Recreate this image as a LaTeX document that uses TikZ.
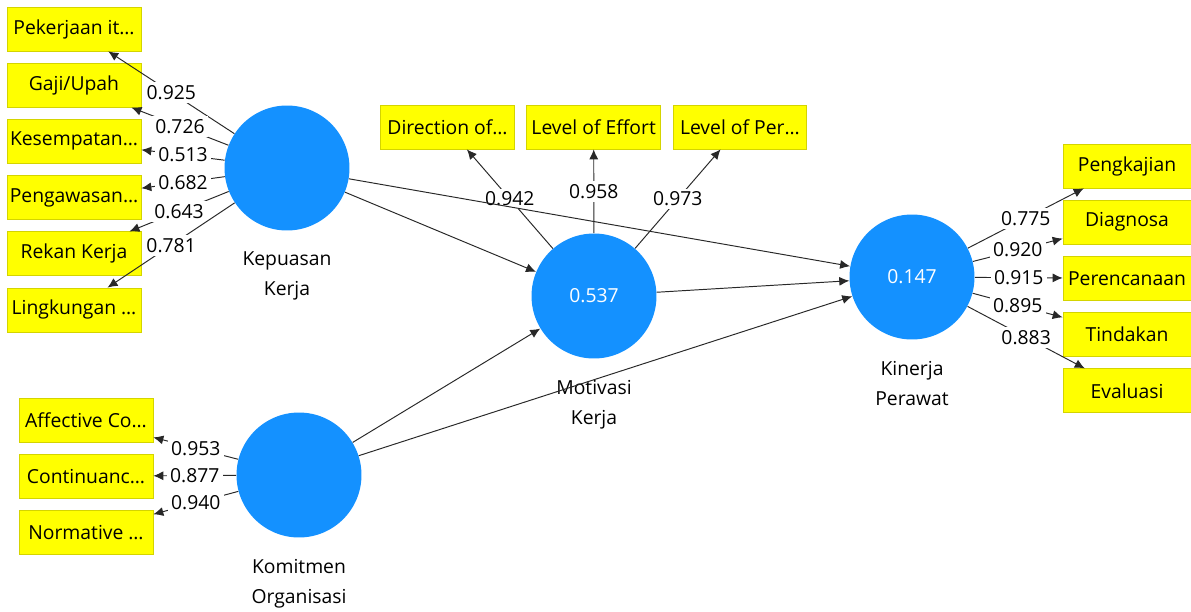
\documentclass[tikz,border=0pt]{standalone}
\usepackage{fontspec}
\setmainfont{Open Sans}
\usetikzlibrary{positioning,arrows.meta}
\definecolor{lvblue}{RGB}{20,145,255}
\definecolor{indyellow}{RGB}{255,255,0}
\definecolor{indborder}{RGB}{212,212,0}
\definecolor{pathgray}{RGB}{40,40,40}
\tikzset{
  >={Latex[length=2mm,width=1.8mm]},
  every edge/.append style={draw=pathgray, line width=0.55pt},
}
\begin{document}
\begin{tikzpicture}[
  ->,
  x=0.02cm, y=-0.02cm,
  font=\fontsize{11}{17}\selectfont,
  lv/.style={circle, fill=lvblue, minimum size=2.5cm, inner sep=0pt, text=white},
  ind/.style={draw=indborder, fill=indyellow, minimum width=2.68cm, minimum height=0.88cm, inner sep=0pt},
  val/.style={fill=white, inner sep=1.8pt},
  lvname/.style={below=0.42cm of #1, align=center, inner sep=0pt}
]
\fill[white] (0,0) rectangle (1191,612);
\useasboundingbox (0,0) rectangle (1191,612);

% latent variables
\node[lv] (kk) at (287,168) {};
\node[lv] (ko) at (299,475) {};
\node[lv] (mk) at (594,296) {0.537};
\node[lv] (kp) at (912,277) {0.147};

\node[lvname=kk] (kkl) {Kepuasan\\Kerja};
\node[lvname=ko] (kol) {Komitmen\\Organisasi};
\node[lvname=mk] (mkl) {Motivasi\\Kerja};
\node[lvname=kp] (kpl) {Kinerja\\Perawat};

% indicators
\node[ind] (kk1) at (74,29) {Pekerjaan it…};
\node[ind, below=0.23cm of kk1] (kk2) {Gaji/Upah};
\node[ind, below=0.23cm of kk2] (kk3) {Kesempatan…};
\node[ind, below=0.23cm of kk3] (kk4) {Pengawasan…};
\node[ind, below=0.23cm of kk4] (kk5) {Rekan Kerja};
\node[ind, below=0.23cm of kk5] (kk6) {Lingkungan …};

\node[ind] (ko1) at (86,420) {Affective Co…};
\node[ind, below=0.23cm of ko1] (ko2) {Continuanc…};
\node[ind, below=0.23cm of ko2] (ko3) {Normative …};

\node[ind] (mk1) at (447.5,127) {Direction of…};
\node[ind, right=0.23cm of mk1] (mk2) {Level of Effort};
\node[ind, right=0.23cm of mk2] (mk3) {Level of Per…};

\node[ind, minimum width=2.56cm] (kp1) at (1127,166) {Pengkajian};
\node[ind, minimum width=2.56cm, below=0.23cm of kp1] (kp2) {Diagnosa};
\node[ind, minimum width=2.56cm, below=0.23cm of kp2] (kp3) {Perencanaan};
\node[ind, minimum width=2.56cm, below=0.23cm of kp3] (kp4) {Tindakan};
\node[ind, minimum width=2.56cm, below=0.23cm of kp4] (kp5) {Evaluasi};

% outer loadings
\path
(kk) edge node[val] {0.925} (kk1)
(kk) edge node[val] {0.726} (kk2)
(kk) edge node[val] {0.513} (kk3)
(kk) edge node[val] {0.682} (kk4)
(kk) edge node[val] {0.643} (kk5)
(kk) edge node[val] {0.781} (kk6)
(ko) edge node[val] {0.953} (ko1)
(ko) edge node[val] {0.877} (ko2)
(ko) edge node[val] {0.940} (ko3)
(mk) edge node[val] {0.942} (mk1)
(mk) edge node[val] {0.958} (mk2)
(mk) edge node[val] {0.973} (mk3)
(kp) edge node[val] {0.775} (kp1)
(kp) edge node[val] {0.920} (kp2)
(kp) edge node[val] {0.915} (kp3)
(kp) edge node[val] {0.895} (kp4)
(kp) edge node[val] {0.883} (kp5);

% inner model
\path
(kk) edge (mk)
(kk) edge (kp)
(ko) edge (mk)
(ko) edge (kp)
(mk) edge (kp);

\end{tikzpicture}
\end{document}
